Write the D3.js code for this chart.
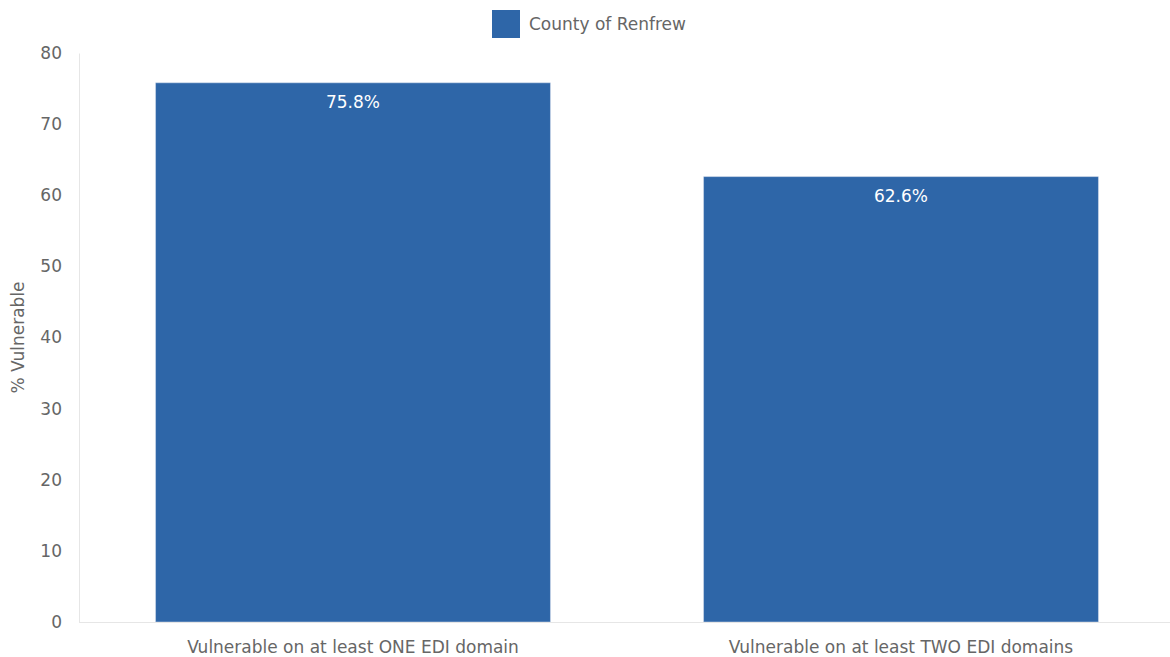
<!DOCTYPE html>
<html>
<head>
<meta charset="utf-8">
<script src="https://cdn.jsdelivr.net/npm/d3@7"></script>
<style>
  body { margin: 0; background: #fff; }
  text { font-family: "DejaVu Sans", sans-serif; }
</style>
</head>
<body>
<svg width="1170" height="657"></svg>
<script>
var categories = ["Vulnerable on at least ONE EDI domain", "Vulnerable on at least TWO EDI domains"];
var values = [75.8, 62.6];
var seriesName = "County of Renfrew";
var yTicks = [0, 10, 20, 30, 40, 50, 60, 70, 80];

var margin = {top: 53, right: 0, bottom: 35, left: 79}
  , width = 1170 - margin.left - margin.right
  , height = 657 - margin.top - margin.bottom;

var svg = d3.select("svg");
var g = svg.append("g").attr("transform", "translate(" + margin.left + "," + margin.top + ")");

var x = d3.scaleBand()
  .domain(categories)
  .range([0, 1096])
  .paddingInner(0.28)
  .paddingOuter(0.14);

var y = d3.scaleLinear()
  .domain([0, 80])
  .range([height, 0]);

// y axis
var yAxis = g.append("g")
  .call(d3.axisLeft(y).tickValues(yTicks).tickSize(0).tickPadding(17));
yAxis.select(".domain").attr("stroke", "#e6e6e6");
yAxis.selectAll("text").attr("fill", "#666").style("font-size", "17px");

// bars
g.selectAll("rect.bar")
  .data(values)
  .enter()
  .append("rect")
    .attr("class", "bar")
    .attr("x", function(d, i){ return x(categories[i]); })
    .attr("y", function(d){ return y(d); })
    .attr("width", x.bandwidth())
    .attr("height", function(d){ return height - y(d); })
    .attr("fill", "#2e66a8")
    .attr("stroke", "#b8c9e0")
    .attr("stroke-width", 0.6);

// value labels
g.selectAll("text.val")
  .data(values)
  .enter()
  .append("text")
    .attr("class", "val")
    .attr("x", function(d, i){ return x(categories[i]) + x.bandwidth() / 2; })
    .attr("y", function(d){ return y(d) + 25; })
    .attr("text-anchor", "middle")
    .attr("fill", "#fff")
    .style("font-size", "17px")
    .text(function(d){ return d.toFixed(1) + "%"; });

// x axis
var xAxis = g.append("g")
  .attr("transform", "translate(0," + height + ")")
  .call(d3.axisBottom(x).tickSize(0).tickPadding(19));
xAxis.select(".domain").remove();
xAxis.selectAll("text").attr("fill", "#666").style("font-size", "17px");
g.append("line")
  .attr("x1", 0).attr("x2", width)
  .attr("y1", height + 0.5).attr("y2", height + 0.5)
  .attr("stroke", "#e6e6e6");

// y title
svg.append("text")
  .attr("transform", "translate(24," + (margin.top + height / 2) + ") rotate(-90)")
  .attr("text-anchor", "middle")
  .attr("fill", "#666")
  .style("font-size", "17px")
  .text("% Vulnerable");

// legend
var leg = svg.append("g").attr("transform", "translate(492,10)");
leg.append("rect").attr("width", 28).attr("height", 28).attr("fill", "#2e66a8");
leg.append("text")
  .attr("x", 37).attr("y", 19.5)
  .attr("fill", "#666")
  .style("font-size", "17px")
  .text(seriesName);
</script>
</body>
</html>
